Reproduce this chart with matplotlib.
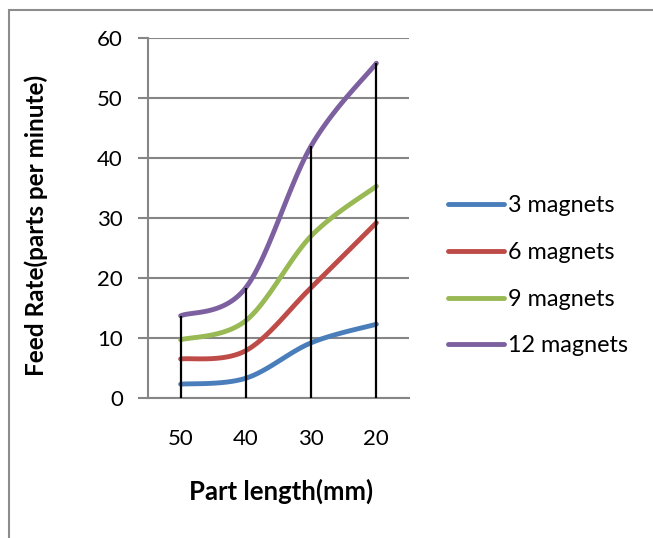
import numpy as np
import matplotlib.pyplot as plt
from matplotlib.patches import Rectangle
from matplotlib.lines import Line2D

plt.rcParams['font.family'] = ['Lato', 'DejaVu Sans']

part_length = ['50', '40', '30', '20']
series_names = ['3 magnets', '6 magnets', '9 magnets', '12 magnets']
feed_3 = [2.3, 3.3, 9.2, 12.3]
feed_6 = [6.5, 7.9, 18.4, 29.2]
feed_9 = [9.7, 12.9, 27.0, 35.3]
feed_12 = [13.7, 18.4, 42.0, 55.8]
colors = ['#4A7EBB', '#BE4B48', '#98B954', '#7D60A0']


def smooth(xs, ys, steps=30):
    # cardinal spline through the points, like a spreadsheet "smoothed line"
    xs = np.asarray(xs, float)
    ys = np.asarray(ys, float)
    px = np.concatenate([[xs[0]], xs, [xs[-1]]])
    py = np.concatenate([[ys[0]], ys, [ys[-1]]])
    outx, outy = [], []
    t = np.linspace(0, 1, steps)
    for i in range(1, len(px) - 2):
        p0 = np.array([px[i], py[i]])
        p3 = np.array([px[i + 1], py[i + 1]])
        c1 = p0 + (np.array([px[i + 1], py[i + 1]]) - np.array([px[i - 1], py[i - 1]])) / 6
        c2 = p3 - (np.array([px[i + 2], py[i + 2]]) - np.array([px[i], py[i]])) / 6
        b = ((1 - t) ** 3)[:, None] * p0 + (3 * (1 - t) ** 2 * t)[:, None] * c1 \
            + (3 * (1 - t) * t ** 2)[:, None] * c2 + (t ** 3)[:, None] * p3
        outx.extend(b[:, 0])
        outy.extend(b[:, 1])
    return outx, outy


fig = plt.figure(figsize=(6.53, 5.38), dpi=100)
fig.patches.append(Rectangle((9 / 653, -0.1), 1.2, 1 - 10 / 538 + 0.1,
                             transform=fig.transFigure, fill=False,
                             edgecolor='#8c8c8c', linewidth=1.5))

ax = fig.add_axes([148 / 653, 140 / 538, 261 / 653, 360 / 538])
x = np.arange(len(part_length))
all_series = [feed_3, feed_6, feed_9, feed_12]

for vals, c in zip(all_series, colors):
    sx, sy = smooth(x, vals)
    ax.plot(sx, sy, color=c, linewidth=3.5, solid_capstyle='round', zorder=3)

# drop lines from the highest series down to the axis
tops = np.max(all_series, axis=0)
ax.vlines(x, 0, tops, color='black', linewidth=1.6, zorder=4)

ax.set_xlim(-0.5, len(part_length) - 0.5)
ax.set_ylim(0, 60)
ax.set_yticks(range(0, 61, 10))
ax.set_xticks(x)
ax.set_xticklabels(part_length)
ax.yaxis.grid(True, color='#868686', linewidth=1.5)
ax.set_axisbelow(True)
for s in ['top', 'right']:
    ax.spines[s].set_visible(False)
for s in ['left', 'bottom']:
    ax.spines[s].set_color('#868686')
    ax.spines[s].set_linewidth(1.5)
ax.tick_params(axis='y', length=7, width=1.5, color='#868686', labelsize=16, pad=11)
ax.tick_params(axis='x', length=0, labelsize=16, pad=22)

ax.set_ylabel('Feed Rate(parts per minute)', fontsize=17.5, fontweight='bold')
ax.set_xlabel('Part length(mm)', fontsize=18.5, fontweight='bold')
ax.yaxis.set_label_coords(-0.385, 0.48)
ax.xaxis.set_label_coords(0.51, -0.225)

handles = [Line2D([], [], color=c, linewidth=3.5, solid_capstyle='round') for c in colors]
fig.legend(handles, series_names, loc='center left', bbox_to_anchor=(439 / 653, 1 - 276 / 538),
           frameon=False, fontsize=16.8, handlelength=2.4, handletextpad=0.17,
           labelspacing=1.1, borderaxespad=0)

fig.savefig('out.png', dpi=100)
